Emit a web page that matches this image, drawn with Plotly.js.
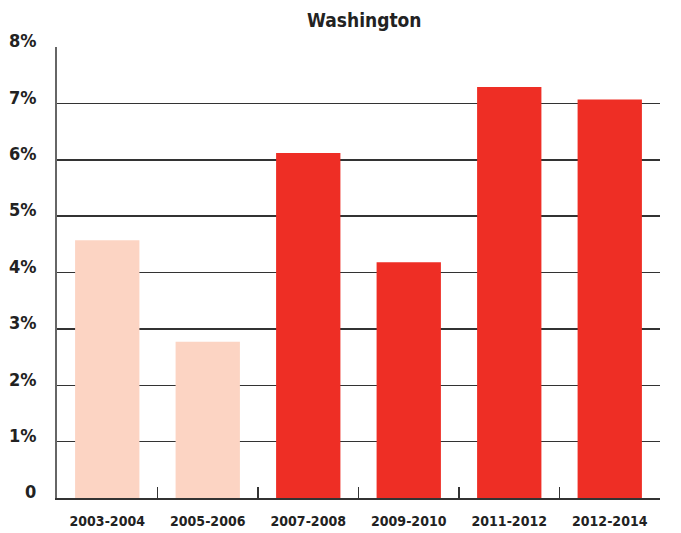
<!DOCTYPE html>
<html>
<head>
<meta charset="utf-8">
<script src="https://cdn.plot.ly/plotly-3.0.1.min.js"></script>
<style>html,body{margin:0;padding:0;background:#fff;}#chart{width:681px;height:533px;}</style>
</head>
<body>
<div id="chart"></div>
<script>
const categories = ["2003-2004", "2005-2006", "2007-2008", "2009-2010", "2011-2012", "2012-2014"];
const values = [4.57, 2.77, 6.12, 4.18, 7.29, 7.07];
const barColors = ["#FCD4C3", "#FCD4C3", "#EE2E25", "#EE2E25", "#EE2E25", "#EE2E25"];
const yTickVals = [0, 1, 2, 3, 4, 5, 6, 7, 8];
const yTickText = ["0", "1%", "2%", "3%", "4%", "5%", "6%", "7%", "8%"];
const chartTitle = "Washington";

const fontFam = "'Liberation Sans Narrow', 'DejaVu Sans Condensed', Arial, sans-serif";

Plotly.newPlot("chart", [{
  type: "bar",
  x: categories,
  y: values,
  marker: {color: barColors, line: {width: 0}},
  hoverinfo: "none"
}], {
  width: 681, height: 533,
  margin: {l: 57, r: 21, t: 47, b: 35},
  paper_bgcolor: "#fff", plot_bgcolor: "#fff",
  bargap: 0.36,
  showlegend: false,
  title: {text: "<b>" + chartTitle + "</b>", x: 0.535, xanchor: "center", y: 0.962, yanchor: "middle",
          font: {family: fontFam, size: 19, color: "#222"}},
  xaxis: {
    type: "category",
    showline: true, linecolor: "#333", linewidth: 2,
    ticks: "inside", tickson: "boundaries", ticklen: 11, tickwidth: 1.5, tickcolor: "#333",
    showgrid: false, zeroline: false,
    ticklabelstandoff: 9,
    tickfont: {family: fontFam, size: 14, color: "#222", weight: "bold"}
  },
  yaxis: {
    range: [0, 8],
    tickvals: yTickVals, ticktext: yTickText,
    showgrid: true, gridcolor: "#333", gridwidth: 1.5,
    zeroline: false,
    showline: true, linecolor: "#666", linewidth: 2,
    ticks: "", ticklabelstandoff: 15, ticklabelshift: -6,
    tickfont: {family: fontFam, size: 18, color: "#222", weight: "bold"}
  }
}, {displayModeBar: false, staticPlot: true});
</script>
</body>
</html>
